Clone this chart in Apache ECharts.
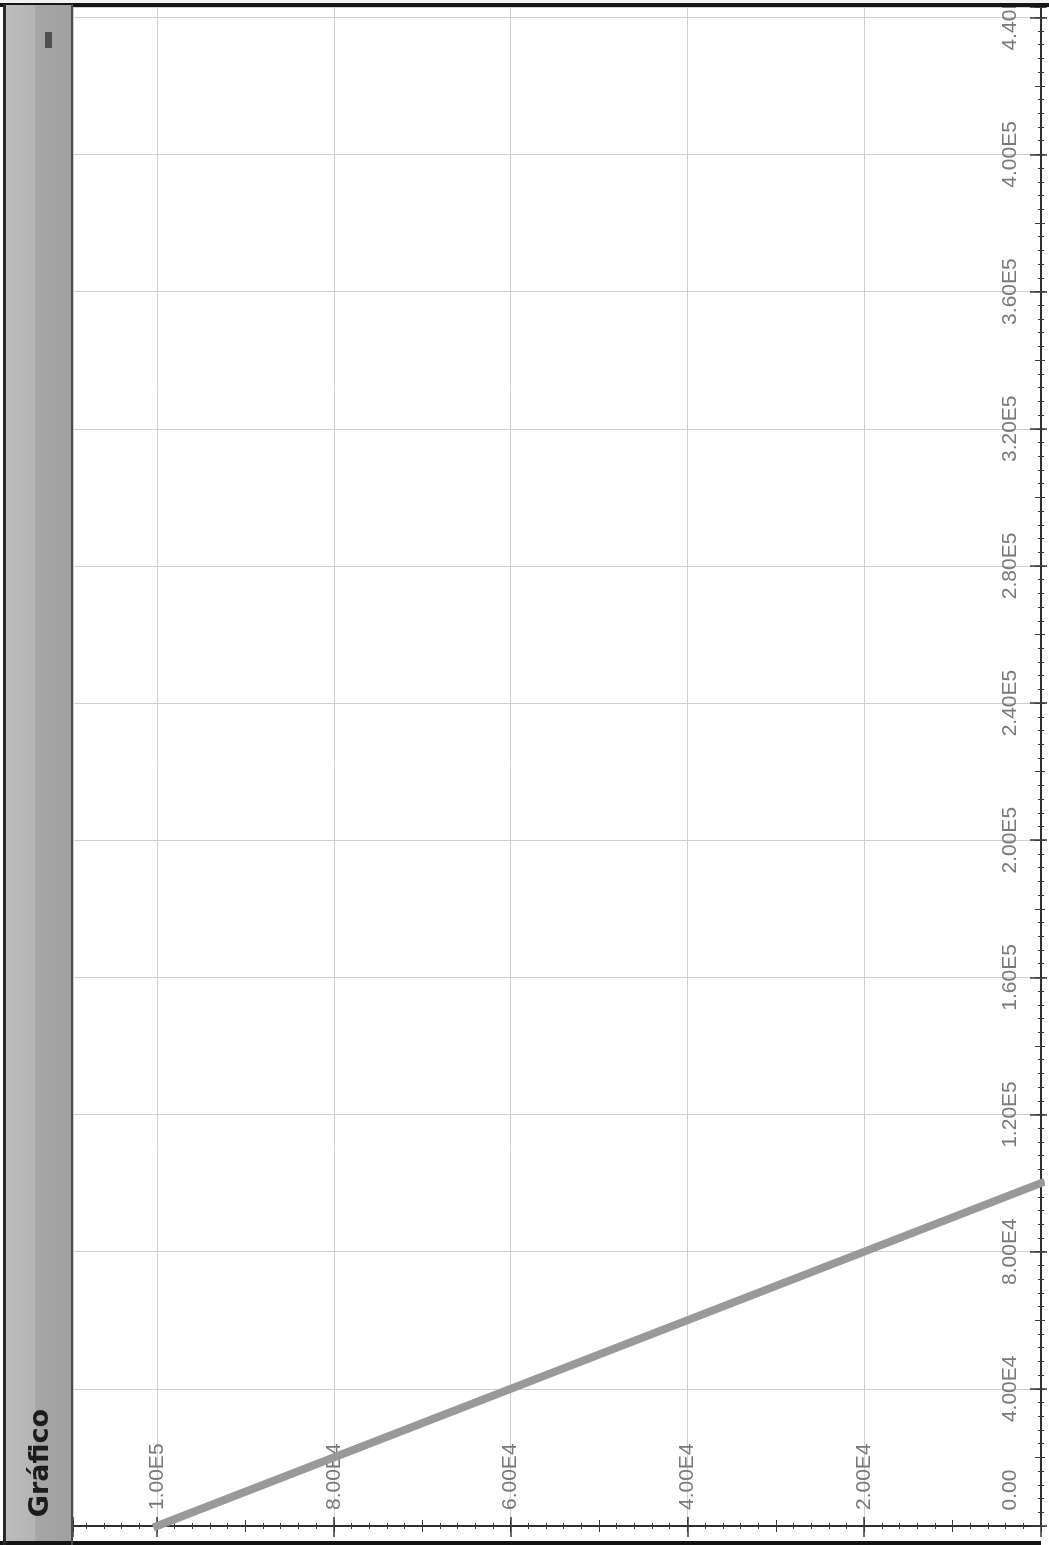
<!DOCTYPE html>
<html><head><meta charset="utf-8">
<script src="https://cdn.jsdelivr.net/npm/echarts@6/dist/echarts.min.js"></script>
<style>html,body{margin:0;padding:0;background:#fff}#c{width:1049px;height:1545px}</style>
</head><body><div id="c"></div>
<script>
// ---- data ----
const titleText = 'Gráfico';
// long axis (runs along the right edge, bottom -> top)
const longTicks  = [0, 40000, 80000, 120000, 160000, 200000, 240000, 280000, 320000, 360000, 400000, 440000];
const longLabels = ['0.00', '4.00E4', '8.00E4', '1.20E5', '1.60E5', '2.00E5', '2.40E5', '2.80E5', '3.20E5', '3.60E5', '4.00E5', '4.40E5'];
// short axis (runs along the bottom edge, right -> left)
const shortTicks  = [20000, 40000, 60000, 80000, 100000];
const shortLabels = ['2.00E4', '4.00E4', '6.00E4', '8.00E4', '1.00E5'];
// line end points
const lineLong  = [0, 100000];
const lineShort = [100000, 0];

const LONG_MAX = 443000, SHORT_MAX = 109500;
const tickColor = '#3a3a3a';
const labelStyle = {fontFamily: '"Liberation Sans", Arial, sans-serif', fontSize: 21, color: '#7a7a7a'};

function hAxis(extra) {
  return Object.assign({type: 'value', inverse: true, min: 0, max: SHORT_MAX, position: 'bottom',
    axisLine: {show: false}, axisLabel: {show: false}, splitLine: {show: false},
    axisTick: {show: true}, minorTick: {show: false}}, extra);
}
function vAxis(extra) {
  return Object.assign({type: 'value', min: 0, max: LONG_MAX, position: 'right',
    axisLine: {show: false}, axisLabel: {show: false}, splitLine: {show: false},
    axisTick: {show: true}, minorTick: {show: false}}, extra);
}

const chart = echarts.init(document.getElementById('c'), null, {renderer: 'canvas'});
const option = {
  animation: false,
  backgroundColor: '#ffffff',
  grid: {left: 73, right: 8, top: 7, bottom: 19, containLabel: false, outerBoundsMode: 'none'},
  xAxis: [
    hAxis({interval: 20000,
      axisLine: {show: true, lineStyle: {color: '#2e2e2e', width: 2}},
      axisTick: {show: true, inside: true, length: 9, lineStyle: {color: tickColor, width: 1.5}},
      splitLine: {show: true, lineStyle: {color: '#d0d0d0', width: 1}},
      axisLabel: Object.assign({show: true, inside: true, rotate: 90, margin: 16,
        formatter: v => { const i = shortTicks.indexOf(Math.round(v)); return i < 0 ? '' : shortLabels[i]; }}, labelStyle)}),
    hAxis({interval: 20000, axisTick: {show: true, inside: false, length: 11, lineStyle: {color: tickColor, width: 1.5}}}),
    hAxis({interval: 10000, axisTick: {show: true, inside: true, length: 6, lineStyle: {color: tickColor, width: 1}},
      minorTick: {show: true, splitNumber: 5, length: 3, lineStyle: {color: tickColor, width: 1}}}),
    hAxis({interval: 10000, axisTick: {show: true, inside: false, length: 6, lineStyle: {color: tickColor, width: 1}},
      minorTick: {show: true, splitNumber: 5, length: 3, lineStyle: {color: tickColor, width: 1}}})
  ],
  yAxis: [
    vAxis({interval: 40000,
      axisLine: {show: true, lineStyle: {color: '#2e2e2e', width: 2}},
      axisTick: {show: true, inside: true, length: 11, lineStyle: {color: tickColor, width: 1.5}},
      splitLine: {show: true, lineStyle: {color: '#d0d0d0', width: 1}},
      axisLabel: Object.assign({show: true, inside: true, rotate: 90, margin: 20,
        formatter: v => { const r = Math.round(v); const i = longTicks.indexOf(r); if (i < 0) return ''; return r === 0 ? '{z|' + longLabels[i] + '}' : longLabels[i]; },
        rich: {z: {fontFamily: labelStyle.fontFamily, fontSize: 21, color: '#7a7a7a', padding: [0, 0, 0, 72]}}}, labelStyle)}),
    vAxis({interval: 40000, axisTick: {show: true, inside: false, length: 6, lineStyle: {color: tickColor, width: 1.5}}}),
    vAxis({interval: 20000, axisTick: {show: true, inside: true, length: 6, lineStyle: {color: tickColor, width: 1}},
      minorTick: {show: true, splitNumber: 5, length: 3, lineStyle: {color: tickColor, width: 1}}}),
    vAxis({interval: 20000, axisTick: {show: true, inside: false, length: 4, lineStyle: {color: tickColor, width: 1}},
      minorTick: {show: true, splitNumber: 5, length: 3, lineStyle: {color: tickColor, width: 1}}})
  ],
  series: [{
    type: 'line', xAxisIndex: 0, yAxisIndex: 0, symbol: 'none', clip: false, z: 5,
    lineStyle: {color: '#999999', width: 8, cap: 'square'},
    data: lineLong.map((l, i) => [lineShort[i], l])
  }],
  graphic: [
    {type: 'rect', z: 100, shape: {x: 0, y: 0, width: 1049, height: 3}, style: {fill: '#f2f2f2'}},
    {type: 'rect', z: 100, shape: {x: 0, y: 3, width: 1049, height: 4}, style: {fill: '#151515'}},
    {type: 'rect', z: 100, shape: {x: 0, y: 1541, width: 1041, height: 4}, style: {fill: '#151515'}},
    {type: 'rect', z: 100, shape: {x: 6, y: 5, width: 65, height: 1536},
      style: {fill: new echarts.graphic.LinearGradient(0, 0, 1, 0, [
        {offset: 0, color: '#bdbdbd'}, {offset: 0.44, color: '#b4b4b4'},
        {offset: 0.46, color: '#a6a6a6'}, {offset: 1, color: '#a0a0a0'}])}},
    {type: 'rect', z: 101, shape: {x: 3, y: 4, width: 3, height: 1541}, style: {fill: '#2a2a2a'}},
    {type: 'rect', z: 101, shape: {x: 71, y: 4, width: 2, height: 1541}, style: {fill: '#4c4c4c'}},
    {type: 'rect', z: 101, shape: {x: 45, y: 32, width: 7, height: 16}, style: {fill: '#4f4f4f'}},
    {type: 'text', z: 102, x: 41, y: 1463, rotation: Math.PI / 2,
      style: {text: titleText, font: 'bold 27px "DejaVu Sans", sans-serif', fill: '#1c1c1c',
        textAlign: 'center', textVerticalAlign: 'middle'}}
  ]
};
chart.setOption(option);
</script></body></html>
